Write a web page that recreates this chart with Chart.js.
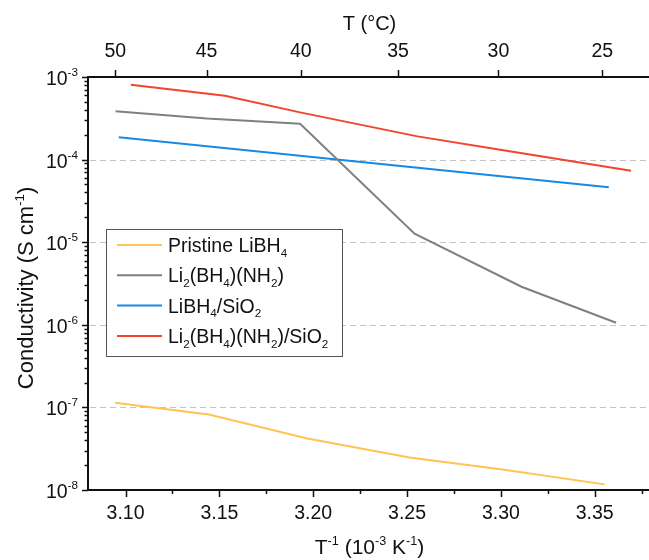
<!DOCTYPE html>
<html>
<head>
<meta charset="utf-8">
<title>Conductivity vs 1/T</title>
<script src="https://cdn.jsdelivr.net/npm/chart.js@4.4.1/dist/chart.umd.min.js"></script>
<style>
  html, body { margin: 0; padding: 0; background: #fff; overflow: hidden; }
  canvas { display: block; }
</style>
</head>
<body>
<canvas id="chart" width="662" height="560"></canvas>
<script>
// --- Data (x = 1000/T in 10^-3 K^-1, y = S cm^-1) ---
const xPristine = [3.0944, 3.1444, 3.1969, 3.2513, 3.3009, 3.3553];
const yPristine = [1.14e-7, 8.2e-8, 4.2e-8, 2.48e-8, 1.77e-8, 1.17e-8];

const xAmide = [3.0947, 3.1433, 3.1930, 3.2540, 3.3110, 3.3614];
const yAmide = [3.84e-4, 3.14e-4, 2.72e-4, 1.27e-5, 2.89e-6, 1.06e-6];

const xSilica = [3.0964, 3.3575];
const ySilica = [1.87e-4, 4.64e-5];

const xAmideSilica = [3.1028, 3.1530, 3.1930, 3.2556, 3.3005, 3.3694];
const yAmideSilica = [8.07e-4, 5.93e-4, 3.73e-4, 1.91e-4, 1.31e-4, 7.31e-5];

const seriesNames = ['Pristine LiBH_{4}', 'Li_{2}(BH_{4})(NH_{2})', 'LiBH_{4}/SiO_{2}', 'Li_{2}(BH_{4})(NH_{2})/SiO_{2}'];
const seriesColors = ['#ffc453', '#808080', '#1589e6', '#f2452c'];

// --- Tick labels ---
const xTicks = [3.10, 3.15, 3.20, 3.25, 3.30, 3.35];
const tempTicks = [50, 45, 40, 35, 30, 25];
const yTicks = [1e-8, 1e-7, 1e-6, 1e-5, 1e-4, 1e-3];
const yTickLabels = ['10^{-8}', '10^{-7}', '10^{-6}', '10^{-5}', '10^{-4}', '10^{-3}'];
const gridDecades = [1e-7, 1e-6, 1e-5, 1e-4];

const FONT = '"Liberation Sans", Arial, Helvetica, sans-serif';

const pts = (xs, ys) => xs.map((x, i) => ({ x, y: ys[i] }));
const plain = s => s.replace(/[_^]\{([^}]*)\}/g, '$1');

// tiny rich-text helper: "_{..}" subscript, "^{..}" superscript
function parseRich(s) {
    const out = [];
    const re = /([_^])\{([^}]*)\}|([^_^]+)/g;
    let m;
    while ((m = re.exec(s))) {
        if (m[3]) out.push({ t: m[3], k: 0 });
        else out.push({ t: m[2], k: m[1] === '_' ? 1 : -1 });
    }
    return out;
}
function drawRich(ctx, s, x, y, size, align) {
    const segs = parseRich(s);
    const small = size * 0.6;
    let w = 0;
    segs.forEach(g => {
        ctx.font = (g.k ? small : size) + 'px ' + FONT;
        g.w = ctx.measureText(g.t).width;
        w += g.w;
    });
    let cx = align === 'center' ? x - w / 2 : align === 'right' ? x - w : x;
    ctx.textAlign = 'left';
    ctx.textBaseline = 'alphabetic';
    segs.forEach(g => {
        ctx.font = (g.k ? small : size) + 'px ' + FONT;
        const dy = g.k === 1 ? size * 0.25 : g.k === -1 ? -size * 0.42 : 0;
        ctx.fillText(g.t, cx, y + dy);
        cx += g.w;
    });
}

const decor = {
    id: 'decor',
    beforeDatasetsDraw(chart) {
        const { ctx, chartArea: a } = chart;
        const y = chart.scales.y;
        ctx.save();
        ctx.strokeStyle = '#c4c4c4';
        ctx.lineWidth = 1;
        ctx.setLineDash([6, 4]);
        gridDecades.forEach(v => {
            const py = Math.round(y.getPixelForValue(v)) + 0.5;
            ctx.beginPath();
            ctx.moveTo(a.left + 2, py);
            ctx.lineTo(a.right, py);
            ctx.stroke();
        });
        ctx.restore();
    },
    afterDraw(chart) {
        const { ctx, chartArea: a } = chart;
        const { x, x2, y } = chart.scales;
        ctx.save();
        ctx.strokeStyle = '#111';
        ctx.fillStyle = '#111';
        ctx.lineWidth = 1.5;

        // bottom ticks (major + minor)
        xTicks.forEach(v => {
            const px = Math.round(x.getPixelForValue(v)) + 0.5;
            ctx.beginPath(); ctx.moveTo(px, a.bottom); ctx.lineTo(px, a.bottom + 7); ctx.stroke();
            const pm = Math.round(x.getPixelForValue(v + 0.025)) + 0.5;
            ctx.beginPath(); ctx.moveTo(pm, a.bottom); ctx.lineTo(pm, a.bottom + 4); ctx.stroke();
        });
        // top ticks (temperature)
        tempTicks.forEach(t => {
            const px = Math.round(x2.getPixelForValue(1000 / (t + 273.15))) + 0.5;
            ctx.beginPath(); ctx.moveTo(px, a.top); ctx.lineTo(px, a.top - 7); ctx.stroke();
        });
        // left ticks (decades + minors)
        yTicks.forEach((v, i) => {
            const py = Math.round(y.getPixelForValue(v)) + 0.5;
            ctx.beginPath(); ctx.moveTo(a.left, py); ctx.lineTo(a.left - 6, py); ctx.stroke();
            if (i < yTicks.length - 1) {
                for (let k = 2; k <= 9; k++) {
                    const pm = Math.round(y.getPixelForValue(v * k)) + 0.5;
                    ctx.beginPath(); ctx.moveTo(a.left, pm); ctx.lineTo(a.left - 3.5, pm); ctx.stroke();
                }
            }
            drawRich(ctx, yTickLabels[i], a.left - 10, py + 7, 19.5, 'right');
        });

        // axis titles
        const cxp = (a.left + a.right) / 2;
        drawRich(ctx, 'T^{-1} (10^{-3} K^{-1})', cxp, 554, 21, 'center');
        drawRich(ctx, 'T (\u00B0C)', cxp, 30, 20, 'center');
        ctx.save();
        ctx.translate(33, 288);
        ctx.rotate(-Math.PI / 2);
        drawRich(ctx, 'Conductivity (S cm^{-1})', 0, 0, 22, 'center');
        ctx.restore();

        // legend
        const lx = 106, ly = 229, lw = 236, lh = 127;
        ctx.fillStyle = '#fff';
        ctx.fillRect(lx, ly, lw, lh);
        ctx.strokeStyle = '#555';
        ctx.lineWidth = 1;
        ctx.strokeRect(lx + 0.5, ly + 0.5, lw, lh);
        chart.data.datasets.forEach((ds, i) => {
            const ry = 245 + i * 30.3;
            ctx.strokeStyle = ds.borderColor;
            ctx.lineWidth = 2;
            ctx.beginPath(); ctx.moveTo(117, ry); ctx.lineTo(162, ry); ctx.stroke();
            ctx.fillStyle = '#111';
            drawRich(ctx, seriesNames[i], 168, ry + 7, 19.5, 'left');
        });
        ctx.restore();
    }
};

const dataPairs = [[xPristine, yPristine], [xAmide, yAmide], [xSilica, ySilica], [xAmideSilica, yAmideSilica]];

new Chart(document.getElementById('chart'), {
    type: 'line',
    data: {
        datasets: dataPairs.map((p, i) => ({
            label: plain(seriesNames[i]),
            data: pts(p[0], p[1]),
            borderColor: seriesColors[i],
            backgroundColor: seriesColors[i],
            borderWidth: 2,
            pointRadius: 0,
            tension: 0,
            fill: false
        }))
    },
    options: {
        responsive: false,
        animation: false,
        devicePixelRatio: 1,
        layout: { padding: { left: 0, right: 11, top: 0, bottom: 0 } },
        plugins: { legend: { display: false }, tooltip: { enabled: false } },
        scales: {
            x: {
                type: 'linear',
                position: 'bottom',
                min: 3.08,
                max: 3.38,
                afterBuildTicks: s => { s.ticks = xTicks.map(v => ({ value: v })); },
                afterFit: s => { s.height = 70; },
                ticks: {
                    autoSkip: false, maxRotation: 0, padding: 12, color: '#111',
                    font: { size: 19.5, family: FONT },
                    callback: v => Number(v).toFixed(2)
                },
                grid: { display: false, drawTicks: false },
                border: { display: true, color: '#111', width: 2 }
            },
            x2: {
                type: 'linear',
                position: 'top',
                min: 3.08,
                max: 3.38,
                afterBuildTicks: s => { s.ticks = tempTicks.map(t => ({ value: 1000 / (t + 273.15) })); },
                afterFit: s => { s.height = 77; },
                ticks: {
                    autoSkip: false, maxRotation: 0, padding: 14, color: '#111',
                    font: { size: 19.5, family: FONT },
                    callback: v => String(Math.round(1000 / v - 273.15))
                },
                grid: { display: false, drawTicks: false },
                border: { display: true, color: '#111', width: 2 }
            },
            y: {
                type: 'logarithmic',
                position: 'left',
                min: 1e-8,
                max: 1e-3,
                afterFit: s => { s.width = 88; },
                ticks: { display: false },
                grid: { display: false, drawTicks: false },
                border: { display: true, color: '#111', width: 2 }
            }
        }
    },
    plugins: [decor]
});
</script>
</body>
</html>
